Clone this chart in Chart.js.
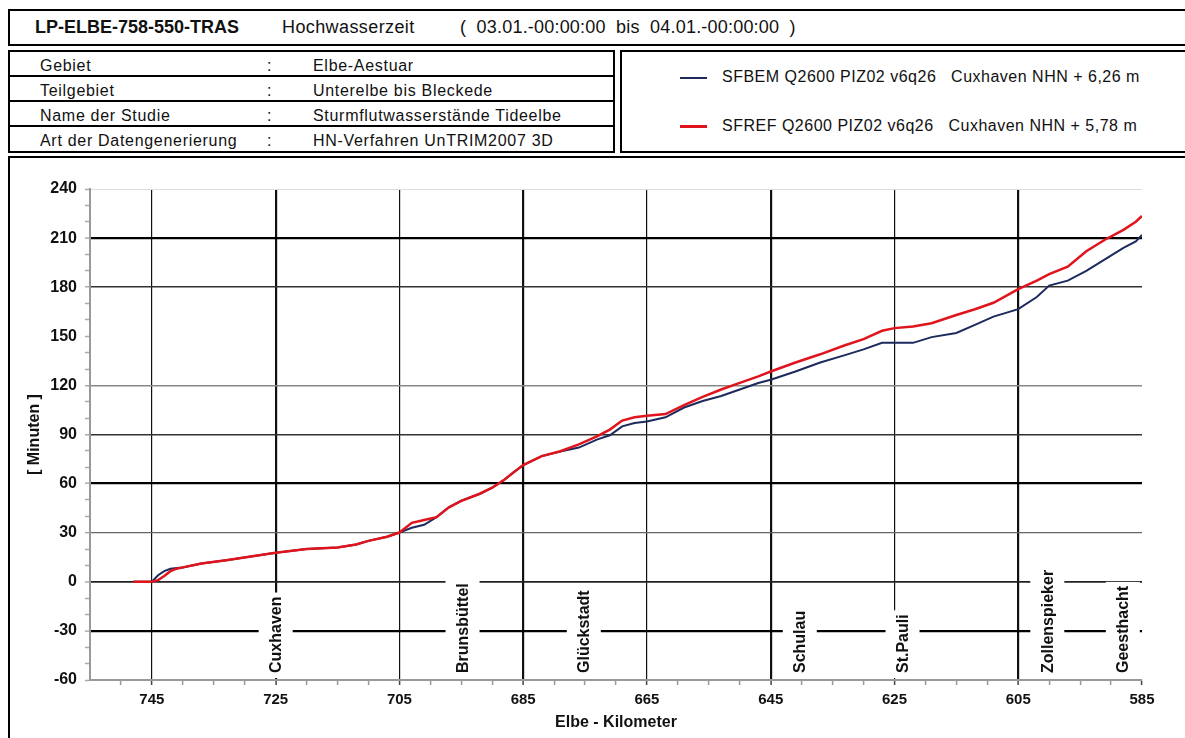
<!DOCTYPE html>
<html>
<head>
<meta charset="utf-8">
<script src="https://cdn.jsdelivr.net/npm/chart.js@4"></script>
<style>
  body { margin: 0; background: #fff; font-family: Arial, "Liberation Sans", sans-serif; color: #111; }
  #page { position: relative; width: 1185px; height: 738px; overflow: hidden; }
  .box { position: absolute; border: 2px solid #000; box-sizing: border-box; }
  .t { position: absolute; white-space: pre; }
  #head .t { top: 6px; font-size: 18px; letter-spacing: 0.2px; }
  #info .row { position: absolute; left: 0; width: 100%; height: 25px; border-bottom: 2px solid #000; box-sizing: border-box; }
  #info .row:last-child { border-bottom: none; }
  #info .t { top: 5px; font-size: 16px; letter-spacing: 0.7px; }
  #legend .t { font-size: 16px; left: 100px; letter-spacing: 0.5px; }
  .swatch { position: absolute; left: 58px; width: 27px; }
  #chart { position: absolute; left: 0; top: 157px; }
</style>
</head>
<body>
<div id="page">
  <div class="box" id="head" style="left:8px;top:9px;width:1200px;height:37px;">
    <span class="t" style="left:25px;font-weight:bold;letter-spacing:0;">LP-ELBE-758-550-TRAS</span>
    <span class="t" style="left:272px;letter-spacing:0.4px;">Hochwasserzeit</span>
    <span class="t" style="left:450px;">(  03.01.-00:00:00  bis  04.01.-00:00:00  )</span>
  </div>
  <div class="box" id="info" style="left:8px;top:50px;width:607px;height:103px;">
    <div class="row" style="top:0"><span class="t" style="left:30px">Gebiet</span><span class="t" style="left:257px">:</span><span class="t" style="left:303px">Elbe-Aestuar</span></div>
    <div class="row" style="top:25px"><span class="t" style="left:30px">Teilgebiet</span><span class="t" style="left:257px">:</span><span class="t" style="left:303px">Unterelbe bis Bleckede</span></div>
    <div class="row" style="top:50px"><span class="t" style="left:30px">Name der Studie</span><span class="t" style="left:257px">:</span><span class="t" style="left:303px">Sturmflutwasserstände Tideelbe</span></div>
    <div class="row" style="top:75px"><span class="t" style="left:30px">Art der Datengenerierung</span><span class="t" style="left:257px">:</span><span class="t" style="left:303px">HN-Verfahren UnTRIM2007 3D</span></div>
  </div>
  <div class="box" id="legend" style="left:620px;top:50px;width:600px;height:103px;">
    <div class="swatch" style="top:25px;height:2px;background:#1c2a5c;"></div>
    <span class="t" style="top:16px;">SFBEM Q2600 PIZ02 v6q26   Cuxhaven NHN + 6,26 m</span>
    <div class="swatch" style="top:73px;height:3px;background:#e0141c;"></div>
    <span class="t" style="top:65px;">SFREF Q2600 PIZ02 v6q26   Cuxhaven NHN + 5,78 m</span>
  </div>
  <div class="box" style="left:8px;top:156px;width:1200px;height:600px;"></div>
  <canvas id="chart" width="1185" height="581"></canvas>
</div>
<script>
// Elbe-Kilometer (stations along the river)
const km = [748, 745, 744, 743, 742, 741, 740, 737, 733, 729, 725, 720, 715, 712, 710, 707, 705,
  703, 701, 699, 697, 695, 692, 690, 688, 686.5, 685, 682, 679, 676, 673, 671, 669, 667, 665,
  662, 659, 656, 653, 650, 647, 645, 641, 637, 633, 630, 627, 625, 622, 619, 615, 612, 609,
  605, 602, 600, 597, 594, 591, 588, 586, 585];

// Hochwasserzeit in Minuten
const bemMinutes = [0, 0, 4, 6.5, 8, 8.5, 8.8, 11.2, 13.2, 15.5, 17.7, 20, 20.9, 22.8, 25, 27.5, 30.1,
  33, 34.8, 39.5, 45.5, 49.5, 53.8, 57.5, 62.5, 67, 71.3, 76.8, 79.6, 82, 87, 89.5, 95, 97, 98,
  100.5, 106.5, 110.5, 113.5, 117.5, 121.5, 123.5, 128.5, 134, 138.5, 142, 146, 146, 146, 149.5, 152, 157, 162,
  166.6, 174, 181, 184, 190, 197, 204, 208, 212];

const refMinutes = [0, 0, 1, 3.5, 6.5, 8, 8.8, 11.2, 13.2, 15.5, 17.7, 20, 20.9, 22.8, 25, 27.5, 30.1,
  36, 37.8, 39.5, 45.5, 49.5, 53.8, 57.5, 62.5, 67, 71.3, 76.8, 79.8, 84, 89, 93, 98.5, 100.5, 101.5,
  102.5, 108, 113, 117.5, 121.5, 125.5, 128.5, 134, 139, 144.5, 148.3, 153.4, 155, 156, 158, 163, 166.5, 170.5,
  178.8, 184, 188, 192.5, 202, 209, 215, 220, 223.5];

const xLabels = [745, 725, 705, 685, 665, 645, 625, 605, 585];
const yLabels = [-60, -30, 0, 30, 60, 90, 120, 150, 180, 210, 240];

const stations = ['Cuxhaven', 'Brunsbüttel', 'Glückstadt', 'Schulau', 'St.Pauli', 'Zollenspieker', 'Geesthacht'];
const stationKm = [725, 694.8, 675.2, 640.3, 623.7, 600.3, 588.1];

const FONT = 'Arial, "Liberation Sans", sans-serif';

// vertical grid: every second one heavier
const xGridWidth = v => ([725, 685, 645, 605].includes(v) ? 2.2 : 1.2);
const yGridStyle = {
  '-30': [2.2, '#000'], '0': [1.8, '#222'], '30': [1.3, '#666'], '60': [2.2, '#000'],
  '90': [1.5, '#333'], '120': [1.5, '#888'], '180': [1.5, '#333'], '210': [2.2, '#000'],
  '240': [1, '#ddd']
};

const stationLabels = {
  id: 'stationLabels',
  beforeDatasetsDraw(chart) {
    const { ctx, chartArea, scales: { x } } = chart;
    ctx.save();
    ctx.font = 'bold 16px ' + FONT;
    stations.forEach((name, i) => {
      const px = x.getPixelForValue(stationKm[i]);
      const w = ctx.measureText(name).width;
      const base = chartArea.bottom - 7;
      const top = base - w - 4;
      ctx.fillStyle = '#fff';
      ctx.fillRect(px - 17, top, 34, chartArea.bottom - 2 - top);
      ctx.save();
      ctx.translate(px, base);
      ctx.rotate(-Math.PI / 2);
      ctx.fillStyle = '#111';
      ctx.textBaseline = 'middle';
      ctx.fillText(name, 0, 1);
      ctx.restore();
    });
    ctx.restore();
  }
};

new Chart(document.getElementById('chart'), {
  type: 'line',
  data: {
    datasets: [
      {
        label: 'SFBEM Q2600 PIZ02 v6q26   Cuxhaven NHN + 6,26 m',
        data: km.map((k, i) => ({ x: k, y: bemMinutes[i] })),
        borderColor: '#1c2a5c',
        borderWidth: 2,
        order: 2
      },
      {
        label: 'SFREF Q2600 PIZ02 v6q26   Cuxhaven NHN + 5,78 m',
        data: km.map((k, i) => ({ x: k, y: refMinutes[i] })),
        borderColor: '#e0141c',
        borderWidth: 2.5,
        order: 1
      }
    ]
  },
  options: {
    responsive: false,
    animation: false,
    devicePixelRatio: 1,
    elements: { point: { radius: 0 }, line: { tension: 0 } },
    layout: { padding: { left: 0, top: 32, right: 43, bottom: 0 } },
    plugins: { legend: { display: false }, tooltip: { enabled: false } },
    scales: {
      x: {
        type: 'linear',
        reverse: true,
        min: 585,
        max: 755,
        afterBuildTicks: s => {
          const t = [];
          for (let v = 585; v <= 750; v += 5) t.push({ value: v });
          s.ticks = t;
        },
        afterFit: s => { s.height = 58; },
        ticks: {
          autoSkip: false,
          maxRotation: 0,
          padding: 6,
          color: '#111',
          font: { family: FONT, size: 15, weight: 'bold' },
          callback: v => (xLabels.includes(v) ? String(v) : '')
        },
        grid: {
          tickLength: 5,
          color: c => (xLabels.includes(c.tick.value) && c.tick.value !== 585 ? '#111' : 'rgba(0,0,0,0)'),
          lineWidth: c => xGridWidth(c.tick.value),
          tickColor: c => (xLabels.includes(c.tick.value) ? '#444' : '#999'),
          tickWidth: 1.5
        },
        border: { display: true, color: '#999', width: 2 },
        title: {
          display: true,
          text: 'Elbe - Kilometer',
          color: '#111',
          font: { family: FONT, size: 16, weight: 'bold' },
          padding: { top: 0, bottom: 6 }
        }
      },
      y: {
        min: -60,
        max: 240,
        afterBuildTicks: s => {
          const t = [];
          for (let v = -60; v <= 240; v += 10) t.push({ value: v });
          s.ticks = t;
        },
        afterFit: s => { s.width = 90; },
        ticks: {
          autoSkip: false,
          padding: 8,
          color: '#111',
          font: { family: FONT, size: 16, weight: 'bold' },
          callback: v => (yLabels.includes(v) ? String(v) : '')
        },
        grid: {
          tickLength: 5,
          color: c => (yGridStyle[c.tick.value] ? yGridStyle[c.tick.value][1] : 'rgba(0,0,0,0)'),
          lineWidth: c => (yGridStyle[c.tick.value] ? yGridStyle[c.tick.value][0] : 1),
          tickColor: '#aaa',
          tickWidth: 1.5
        },
        border: { display: true, color: '#999', width: 2 },
        title: {
          display: true,
          text: '[ Minuten ]',
          color: '#111',
          font: { family: FONT, size: 16, weight: 'bold' },
          padding: { top: 25, bottom: 0 }
        }
      }
    }
  },
  plugins: [stationLabels]
});
</script>
</body>
</html>
